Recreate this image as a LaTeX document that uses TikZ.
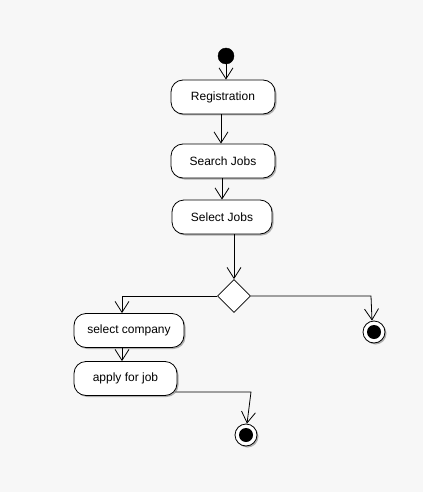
\documentclass[tikz,border=0pt]{standalone}
\usepackage{fontspec}
\setmainfont{Liberation Sans}
\usetikzlibrary{arrows.meta,shapes.geometric,shadows,calc}
\definecolor{bgc}{RGB}{247,247,247}
\definecolor{shd}{RGB}{175,175,175}
\begin{document}
\begin{tikzpicture}[x=1pt,y=-1pt,
  every node/.style={font=\fontsize{12}{14}\selectfont},
  myshadow/.style={drop shadow={shadow xshift=1.5pt,shadow yshift=-1.5pt,fill=shd,opacity=1}},
  actbox/.style={draw=black,line width=0.8pt,fill=white,rounded corners=12pt,
    minimum height=34pt,inner sep=0pt,myshadow},
  arr/.style={line width=0.8pt,-{Straight Barb[length=11pt,width=14pt,line width=0.8pt]}},
  startnode/.style={circle,fill=black,draw=black,minimum size=16pt,inner sep=0pt},
  endnode/.style={circle,draw=black,line width=0.8pt,fill=white,minimum size=22pt,inner sep=0pt,myshadow},
  dec/.style={diamond,draw=black,line width=0.8pt,fill=white,minimum width=33pt,minimum height=33pt,inner sep=0pt,aspect=1}
]
\fill[bgc] (0,0) rectangle (423,492);
\useasboundingbox (0,0) rectangle (423,492);

\node[startnode] (s) at (226,56) {};
\node[actbox,minimum width=104pt] (reg) at (223,97) {Registration};
\node[actbox,minimum width=104pt] (sea) at (223,161) {Search Jobs};
\node[actbox,minimum width=100pt] (sel) at (222,217) {Select Jobs};
\node[dec] (d) at (234,296) {};
\node[actbox,minimum width=110pt] (sc) at (129,330.5) {select company};
\node[actbox,minimum width=103pt] (ap) at (125.5,378.5) {apply for job};
\node[endnode] (e1) at (374,332) {};
\node[circle,fill=black,minimum size=14pt,inner sep=0pt] at (e1) {};
\node[endnode] (e2) at (246,435) {};
\node[circle,fill=black,minimum size=14pt,inner sep=0pt] at (e2) {};

\draw[arr] (s) -- (s |- reg.north);
\draw[arr] ([xshift=-2pt]reg.south) -- ([xshift=-2pt]reg.south |- sea.north);
\draw[arr] ([xshift=-1pt]sea.south) -- ([xshift=-1pt]sea.south |- sel.north);
\draw[arr] ([xshift=12pt]sel.south) -- (d.north);
\draw[arr] (d.west) -| ([xshift=-7pt]sc.north);
\draw[arr] ([xshift=-7pt]sc.south) -- ([xshift=-7pt]sc.south |- ap.north);
\coordinate (c1) at ($(d.east -| e1.north)+(-3,0)$);
\draw[arr] (d.east) -- (c1) -- ([xshift=-2pt]e1.north);
\coordinate (a0) at ($(ap.east)+(-2,13.5)$);
\coordinate (c2) at ($(a0 -| e2.north)+(5,0)$);
\draw[arr] (a0) -- (c2) -- ([xshift=1pt]e2.north);
\end{tikzpicture}
\end{document}
